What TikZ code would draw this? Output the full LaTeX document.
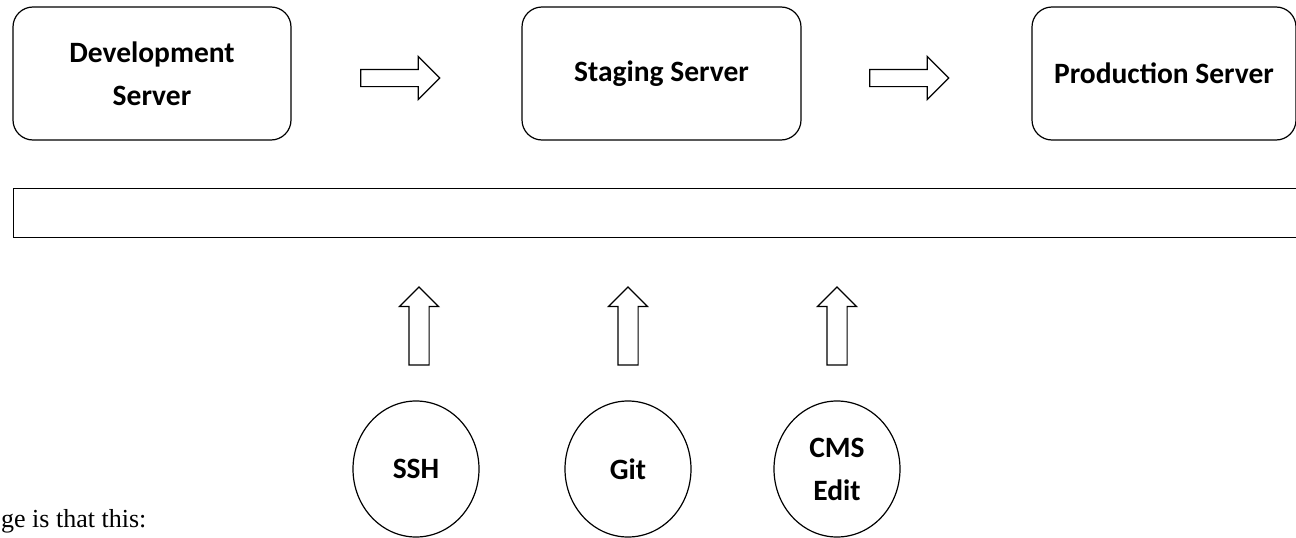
\documentclass[tikz,border=0pt]{standalone}
\usepackage{fontspec}
\setmainfont{Carlito}
\newfontfamily\bodyfont{Liberation Serif}
\usepackage{tikz}
\usetikzlibrary{positioning, shapes, shapes.geometric, shapes.arrows}

\tikzset{
  server/.style={draw, line width=1.2pt, rounded corners=20pt, minimum height=133pt,
    align=center, font=\fontsize{29.5}{43}\selectfont\bfseries},
  tool/.style={draw, ellipse, line width=1.2pt, minimum width=126pt, minimum height=136pt,
    inner sep=0pt, align=center, font=\fontsize{29.5}{43}\selectfont\bfseries},
  flowarrow/.style={draw, single arrow, line width=1.2pt, inner xsep=0pt, inner ysep=8pt,
    single arrow head extend=13pt, minimum height=79pt, minimum width=0pt},
  pusharrow/.style={draw, single arrow, line width=1.2pt, inner xsep=0pt, inner ysep=9.5pt,
    single arrow head extend=9.5pt, minimum height=78pt, minimum width=0pt, rotate=90}
}

\begin{document}
\begin{tikzpicture}[x=1pt, y=-1pt]
\useasboundingbox (0,0) rectangle (1296,538);
\clip (0,0) rectangle (1296,538);
% servers
\node (dev) [server, minimum width=278pt] at (152,73.5) {Development\\Server};
\node (stage) [server, minimum width=279pt] at (661.5,73.5) {Staging Server};
\node (prod) [server, minimum width=264pt] at (1164,73.5) {Production Server};
\node (a1) [flowarrow] at (396,78) {};
\node (a2) [flowarrow] at (905,78) {};
% empty bar
\node (bar) [draw, line width=1.2pt, anchor=north west, minimum width=1320pt,
  minimum height=49pt] at (13,188) {};
% ways in
\node (ssh) [tool] at (416,469) {SSH};
\node (git) [tool] at (628,469) {Git};
\node (cms) [tool] at (837,469) {CMS\\Edit};
\node (u1) [pusharrow] at (419,331) {};
\node (u2) [pusharrow] at (628,331) {};
\node (u3) [pusharrow] at (837,331) {};
\node (rest) [anchor=base west, inner sep=0pt, font=\fontsize{26}{32}\selectfont\bodyfont]
  at (1,527) {ge is that this:};
\end{tikzpicture}
\end{document}
